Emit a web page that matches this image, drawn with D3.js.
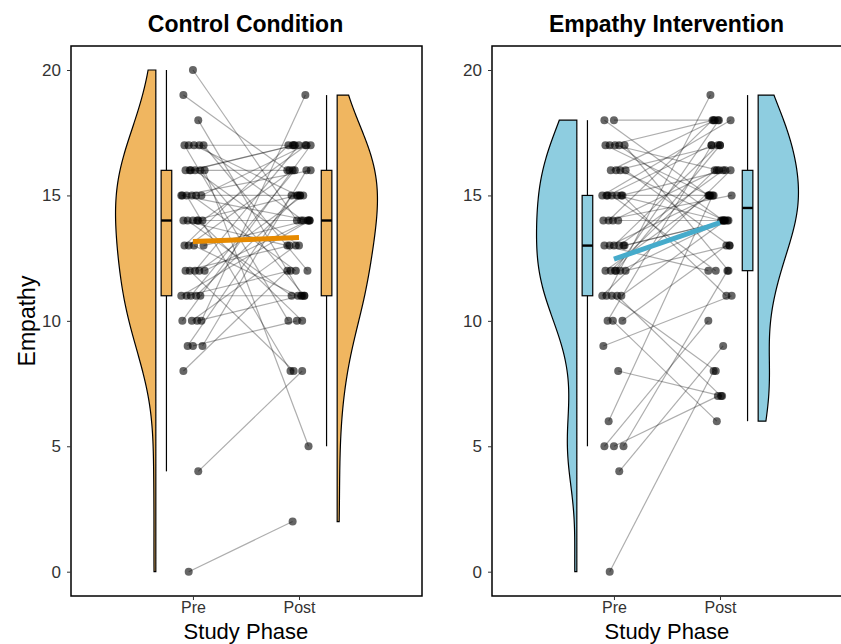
<!DOCTYPE html>
<html>
<head>
<meta charset="utf-8">
<script src="https://cdn.jsdelivr.net/npm/d3@7"></script>
<style>
  body { margin: 0; background: #fff; }
  svg { font-family: "Liberation Sans", Arial, sans-serif; }
</style>
</head>
<body>
<svg id="chart" width="841" height="644"></svg>
<script>
var width = 841, height = 644;

// Data: paired scores, same index = same participant
var phases = ["Pre", "Post"];
var yTicks = [0, 5, 10, 15, 20];
var panelTitles = ["Control Condition", "Empathy Intervention"];

var controlPre  = [20,19,18,17,17,17,17,17,16,16,16,16,16,16,15,15,15,15,15,15,14,14,14,14,14,14,13,13,13,13,12,12,12,12,12,11,11,11,11,11,10,10,10,10,9,9,9,8,4,0];
var controlPost = [14,16,11,17,12,15,10,14,17,5,13,16,11,17,14,15,8,17,12,16,14,11,17,15,13,10,16,14,11,17,15,8,14,17,13,11,16,14,15,12,19,13,17,11,15,16,10,12,8,2];

var interventionPre  = [18,18,17,17,17,17,17,16,16,16,16,15,15,15,15,15,15,15,14,14,14,14,13,13,13,13,13,13,12,12,12,12,12,12,11,11,11,11,11,10,10,10,9,8,6,5,5,5,4,0];
var interventionPost = [18,15,14,18,12,16,15,14,18,13,17,15,16,12,18,14,17,11,16,15,14,18,14,17,12,16,15,14,18,15,14,16,13,17,19,14,8,16,7,17,13,6,11,7,15,12,7,10,9,8];

var fillColors = ["#F0B660", "#8ECDE0"];
var lineColors = ["#E68A00", "#46ABCB"];

var panels = [
  {x0: 71,  pre: controlPre,      post: controlPost},
  {x0: 492, pre: interventionPre, post: interventionPost}
];

var panelW = 351, panelTop = 46, panelBottom = 596;

var y = d3.scaleLinear().domain([0, 20]).range([571.7, 70]);

var svg = d3.select("#chart");

// kernel density, gaussian, nrd0-style bandwidth (a bit smoother)
function kde(values) {
  var s = values.slice().sort(d3.ascending);
  var sd = d3.deviation(s);
  var iqr = d3.quantile(s, 0.75) - d3.quantile(s, 0.25);
  var bw = 1.25 * 0.9 * Math.min(sd, iqr / 1.34) * Math.pow(s.length, -0.2);
  var lo = s[0], hi = s[s.length - 1];
  return d3.range(0, 201).map(function(k) {
    var v = lo + (hi - lo) * k / 200;
    var d = d3.sum(s, function(x) {
      var u = (v - x) / bw;
      return Math.exp(-0.5 * u * u);
    }) / (s.length * bw * Math.sqrt(2 * Math.PI));
    return [v, d];
  });
}

function jitter(i, seed) {
  return (((i * 37 + seed * 11) % 23) - 11) / 100;
}

panels.forEach(function(p, pi) {
  var x = d3.scaleLinear().domain([-0.15, 3.16]).range([p.x0, p.x0 + panelW]);
  var g = svg.append("g");
  var clipId = "clip" + pi;
  svg.append("clipPath").attr("id", clipId)
    .append("rect").attr("x", p.x0).attr("y", panelTop).attr("width", panelW).attr("height", panelBottom - panelTop);
  var body = g.append("g").attr("clip-path", "url(#" + clipId + ")");

  // half violins
  [[p.pre, 0.65, -1], [p.post, 2.36, 1]].forEach(function(v) {
    var dens = kde(v[0]);
    var maxD = d3.max(dens, function(d) { return d[1]; });
    var w = d3.scaleLinear().domain([0, maxD]).range([0, 0.38]);
    var area = d3.area()
      .y(function(d) { return y(d[0]); })
      .x0(x(v[1]))
      .x1(function(d) { return x(v[1] + v[2] * w(d[1])); });
    body.append("path")
      .attr("d", area(dens))
      .attr("fill", fillColors[pi])
      .attr("stroke", "#000")
      .attr("stroke-width", 1.2);
  });

  // boxplots
  [[p.pre, 0.75], [p.post, 2.26]].forEach(function(b) {
    var s = b[0].slice().sort(d3.ascending);
    var q1 = d3.quantile(s, 0.25), med = d3.quantile(s, 0.5), q3 = d3.quantile(s, 0.75);
    var iqr = q3 - q1;
    var wLo = d3.min(s.filter(function(v) { return v >= q1 - 1.5 * iqr; }));
    var wHi = d3.max(s.filter(function(v) { return v <= q3 + 1.5 * iqr; }));
    var cx = x(b[1]), hw = x(b[1] + 0.05) - cx;
    body.append("line").attr("x1", cx).attr("x2", cx).attr("y1", y(wHi)).attr("y2", y(q3))
      .attr("stroke", "#000").attr("stroke-width", 1.2);
    body.append("line").attr("x1", cx).attr("x2", cx).attr("y1", y(q1)).attr("y2", y(wLo))
      .attr("stroke", "#000").attr("stroke-width", 1.2);
    body.append("rect").attr("x", cx - hw).attr("width", 2 * hw)
      .attr("y", y(q3)).attr("height", y(q1) - y(q3))
      .attr("fill", fillColors[pi]).attr("stroke", "#000").attr("stroke-width", 1.2);
    body.append("line").attr("x1", cx - hw).attr("x2", cx + hw).attr("y1", y(med)).attr("y2", y(med))
      .attr("stroke", "#000").attr("stroke-width", 2.4);
  });

  // paired lines
  var pairs = p.pre.map(function(v, i) {
    return {pre: v, post: p.post[i], xa: 1 + jitter(i, 1), xb: 2 + jitter(i, 5)};
  });
  body.selectAll(".pair").data(pairs).enter().append("line")
    .attr("x1", function(d) { return x(d.xa); })
    .attr("y1", function(d) { return y(d.pre); })
    .attr("x2", function(d) { return x(d.xb); })
    .attr("y2", function(d) { return y(d.post); })
    .attr("stroke", "#000").attr("stroke-opacity", 0.32).attr("stroke-width", 1.2);

  // points
  pairs.forEach(function(d) {
    body.append("circle").attr("cx", x(d.xa)).attr("cy", y(d.pre)).attr("r", 4)
      .attr("fill", "#000").attr("fill-opacity", 0.6);
    body.append("circle").attr("cx", x(d.xb)).attr("cy", y(d.post)).attr("r", 4)
      .attr("fill", "#000").attr("fill-opacity", 0.6);
  });

  // mean line
  body.append("line")
    .attr("x1", x(1)).attr("y1", y(d3.mean(p.pre)))
    .attr("x2", x(2)).attr("y2", y(d3.mean(p.post)))
    .attr("stroke", lineColors[pi]).attr("stroke-width", 5);

  // frame
  g.append("rect").attr("x", p.x0).attr("y", panelTop).attr("width", panelW).attr("height", panelBottom - panelTop)
    .attr("fill", "none").attr("stroke", "#000").attr("stroke-width", 1.5);

  // y axis
  var yAxis = g.append("g").attr("transform", "translate(" + p.x0 + ",0)")
    .call(d3.axisLeft(y).tickValues(yTicks).tickSize(4).tickPadding(6));
  yAxis.select(".domain").remove();
  yAxis.selectAll("text").attr("font-size", 17).attr("fill", "#333").style("font-family", "Liberation Sans, Arial, sans-serif");
  yAxis.selectAll("line").attr("stroke", "#333");

  // x axis
  var xs = d3.scalePoint().domain(phases).range([x(1), x(2)]);
  var xAxis = g.append("g").attr("transform", "translate(0," + panelBottom + ")")
    .call(d3.axisBottom(xs).tickSize(4).tickPadding(2));
  xAxis.select(".domain").remove();
  xAxis.selectAll("text").attr("font-size", 16).attr("fill", "#333").style("font-family", "Liberation Sans, Arial, sans-serif");
  xAxis.selectAll("line").attr("stroke", "#333");

  g.append("text").attr("x", (x(1) + x(2)) / 2).attr("y", 639)
    .attr("text-anchor", "middle").attr("font-size", 22).text("Study Phase");

  g.append("text").attr("x", p.x0 + panelW / 2 - 1).attr("y", 32)
    .attr("text-anchor", "middle").attr("font-size", 23).attr("font-weight", "bold")
    .text(panelTitles[pi]);
});

svg.append("text")
  .attr("transform", "translate(35,321) rotate(-90)")
  .attr("text-anchor", "middle").attr("font-size", 23).text("Empathy");
</script>
</body>
</html>
